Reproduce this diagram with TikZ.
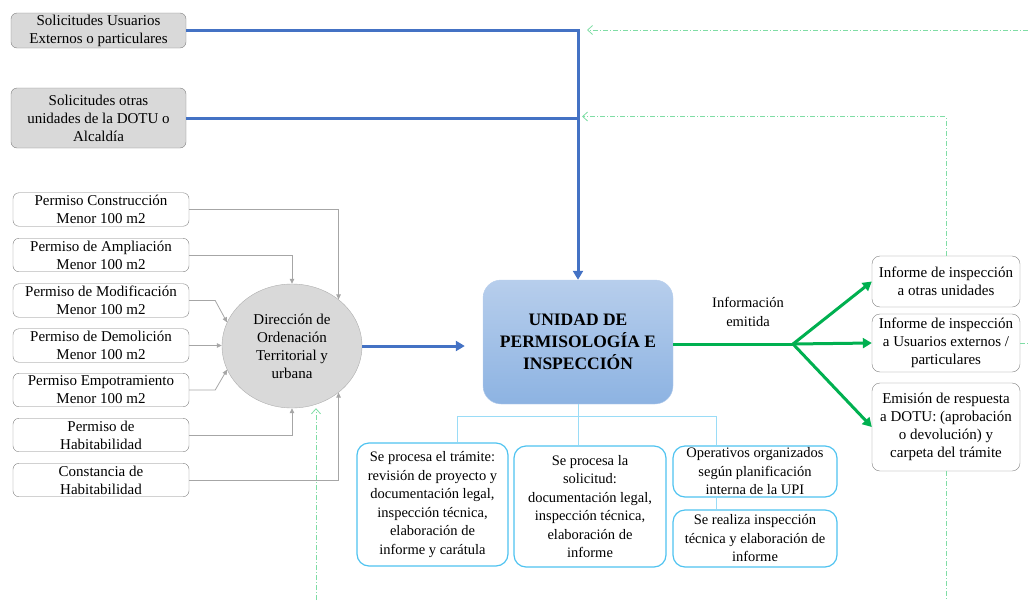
\documentclass[tikz,border=0pt]{standalone}
\usepackage{fontspec}
\setmainfont{Liberation Serif}
\usetikzlibrary{positioning}
\usetikzlibrary{arrows.meta}
\usetikzlibrary{shapes.geometric}
\definecolor{flowblue}{HTML}{4472C4}
\definecolor{boxgray}{HTML}{D9D9D9}
\definecolor{linegray}{HTML}{A6A6A6}
\definecolor{tramcyan}{HTML}{4FC3F0}
\definecolor{treecyan}{HTML}{9ADCF7}
\definecolor{outgreen}{HTML}{00B050}
\definecolor{retgreen}{HTML}{7FDDA5}
\definecolor{upitop}{HTML}{B7CEEC}
\definecolor{upibot}{HTML}{8DB3E2}
\tikzset{txt/.style={font=\fontsize{15}{18}\selectfont, align=center, inner sep=0pt},
solbox/.style={txt, draw=gray, fill=boxgray, rounded corners=6pt, minimum width=175pt},
permbox/.style={txt, draw=gray, fill=white, rounded corners=6pt, minimum width=176pt, minimum height=33.5pt},
dotunode/.style={txt, ellipse, fill=boxgray, draw=boxgray!80!black, minimum width=140pt, minimum height=124pt},
upibox/.style={txt, font=\bfseries\fontsize{17.5}{22}\selectfont, rounded corners=18pt, minimum width=190pt, minimum height=124pt, top color=upitop, bottom color=upibot, draw=upitop},
procbox/.style={txt, font=\fontsize{14.5}{18.5}\selectfont, draw=tramcyan, line width=1.2pt, fill=white, rounded corners=12pt},
infobox/.style={txt, draw=gray, fill=white, rounded corners=8pt, minimum width=148pt},
bluearr/.style={flowblue, line width=3pt, -{Triangle[length=9pt,width=10pt]}},
grayarr/.style={linegray, line width=0.8pt, -{Triangle[length=5pt,width=4.5pt]}},
greenarr/.style={outgreen, line width=3pt, -{Triangle[length=9pt,width=10pt]}},
retline/.style={retgreen, line width=0.8pt, dash pattern=on 5pt off 2pt on 1pt off 2pt},
retarr/.style={retline, -{Straight Barb[length=5pt,width=9pt]}},
treeline/.style={treecyan, line width=1pt}}
\begin{document}
\begin{tikzpicture}[x=1pt, y=-1pt]
	\useasboundingbox (0,0) rectangle (1028,600);
	\node[solbox, minimum height=35pt] (solext) at (98.5,30.5) {Solicitudes Usuarios\\Externos o particulares};
	\node[solbox, minimum height=60pt] (solint) at (98.5,118) {Solicitudes otras\\unidades de la DOTU o\\Alcaldía};
	\node[permbox] (perm1) at (101,209.5) {Permiso Construcción\\Menor 100 m2};
	\node[permbox] (perm2) at (101,255) {Permiso de Ampliación\\Menor 100 m2};
	\node[permbox] (perm3) at (101,300.5) {Permiso de Modificación\\Menor 100 m2};
	\node[permbox] (perm4) at (101,345.5) {Permiso de Demolición\\Menor 100 m2};
	\node[permbox] (perm5) at (101,390) {Permiso Empotramiento\\Menor 100 m2};
	\node[permbox] (perm6) at (101,435) {Permiso de\\Habitabilidad};
	\node[permbox] (perm7) at (101,480) {Constancia de\\Habitabilidad};
	\node[dotunode] (dotu) at (292,346) {Dirección de\\Ordenación\\Territorial y\\urbana};
	\node[upibox] (upi) at (578,342) {UNIDAD DE\\PERMISOLOGÍA E\\INSPECCIÓN};
	\node[txt, font=\fontsize{14.5}{19}\selectfont] (emit) at (748,312) {Información\\emitida};
	\node[procbox, minimum width=151pt, minimum height=123pt] (tram) at (432.5,504.5) {Se procesa el trámite:\\revisión de proyecto y\\documentación legal,\\inspección técnica,\\elaboración de\\informe y carátula};
	\node[procbox, minimum width=152pt, minimum height=121pt] (solic) at (590,506.5) {Se procesa la\\solicitud:\\documentación legal,\\inspección técnica,\\elaboración de\\informe};
	\node[procbox, minimum width=164pt, minimum height=51pt] (oper) at (755,471.5) {Operativos organizados\\según planificación\\interna de la UPI};
	\node[procbox, minimum width=164pt, minimum height=57pt] (insp) at (755,538.5) {Se realiza inspección\\técnica y elaboración de\\informe};
	\node[infobox, minimum height=51pt] (infuni) at (946,281.5) {Informe de inspección\\a otras unidades};
	\node[infobox, minimum height=58pt] (infusu) at (946,343) {Informe de inspección\\a Usuarios externos /\\particulares};
	\node[infobox, minimum height=88pt] (resp) at (946,427) {Emisión de respuesta\\a DOTU: (aprobación\\o devolución) y\\carpeta del trámite};
	\coordinate (split) at (793,344);
	\coordinate (brl) at (457,416);
	\coordinate (brr) at (716,416);
	\coordinate (ret1) at (1028,30);
	\coordinate (ret1end) at (587,30);
	\coordinate (ret2end) at (582,116.5);
	\coordinate (ret3) at (946,600);
	\coordinate (ret4) at (1028,343);
	\coordinate (ret5) at (316,600);
	\draw[bluearr] (solext.east) -| (upi.north);
	\draw[flowblue, line width=3pt] (solint.east) -- (solint.east -| upi.north);
	\draw[grayarr] (perm1.east) -| (dotu.45);
	\draw[grayarr] (perm2.east) -| (dotu.north);
	\draw[grayarr] (perm3.east) -- ++(26,0) -- (dotu.160);
	\draw[grayarr] (perm4.east) -- (perm4.east -| dotu.west);
	\draw[grayarr] (perm5.east) -- ++(26,0) -- (dotu.200);
	\draw[grayarr] (perm6.east) -| (dotu.south);
	\draw[grayarr] (perm7.east) -| (dotu.-45);
	\draw[bluearr, shorten >=18pt] (dotu.east) -- (dotu.east -| upi.west);
	\draw[outgreen, line width=3pt] (upi.east |- split) -- (split);
	\draw[greenarr] (split) -- (infuni.west);
	\draw[greenarr] (split) -- (infusu.west);
	\draw[greenarr] (split) -- (resp.west);
	\draw[treeline] (upi.south) -- (upi.south |- solic.north);
	\draw[treeline] (brl |- tram.north) -- (brl) -- (brr) -- (brr |- oper.north);
	\draw[treeline] (brr |- oper.south) -- (brr |- insp.north);
	\draw[retarr] (ret1) -- (ret1end);
	\draw[retarr] (infuni.north) |- (ret2end);
	\draw[retline] (resp.south) -- (ret3);
	\draw[retline] (infusu.east) -- (ret4);
	\draw[retarr] (ret5) -- (ret5 |- dotu.south);
\end{tikzpicture}
\end{document}
